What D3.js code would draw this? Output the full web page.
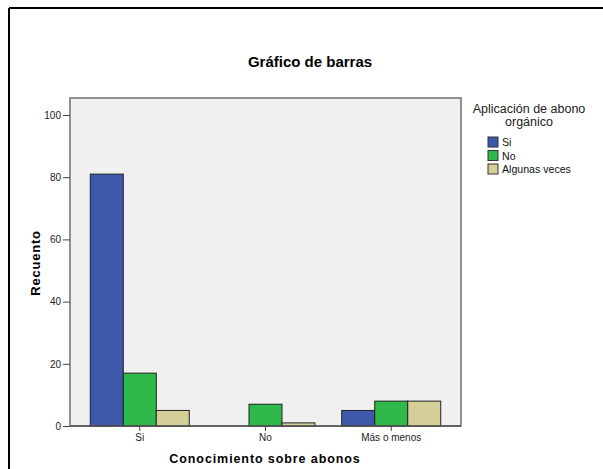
<!DOCTYPE html>
<html>
<head>
<meta charset="utf-8">
<script src="https://cdn.jsdelivr.net/npm/d3@7"></script>
<style>
  body { margin: 0; background: #fff; }
  svg { display: block; font-family: "Liberation Sans", Arial, sans-serif; }
</style>
</head>
<body>
<svg id="chart" width="603" height="469"></svg>
<script>
const categories = ["Si", "No", "Más o menos"];
const series = ["Si", "No", "Algunas veces"];
const valuesSi = [81, 0, 5];
const valuesNo = [17, 7, 8];
const valuesAlgunas = [5, 1, 8];
const yTicks = [0, 20, 40, 60, 80, 100];
const colors = ["#3E58AC", "#2FB94A", "#D4CF99"];

const svg = d3.select("#chart");

// outer frame (only top and left visible)
svg.append("line").attr("x1", 9).attr("x2", 603).attr("y1", 8).attr("y2", 8)
  .attr("stroke", "#000").attr("stroke-width", 2);
svg.append("line").attr("x1", 9).attr("x2", 9).attr("y1", 8).attr("y2", 469)
  .attr("stroke", "#000").attr("stroke-width", 2);

const plot = { left: 70, right: 461, top: 98, bottom: 426 };

const x0 = d3.scaleBand().domain(categories)
  .range([plot.left, plot.right]).paddingOuter(0.055).paddingInner(0);
const groupW = 99;
const x1 = d3.scaleBand().domain(series).range([0, groupW]);
const y = d3.scaleLinear().domain([0, 100]).range([plot.bottom, 115]);

svg.append("rect")
  .attr("x", plot.left).attr("y", plot.top)
  .attr("width", plot.right - plot.left).attr("height", plot.bottom - plot.top)
  .attr("fill", "#F0F0F0").attr("stroke", "#6f6f6f").attr("stroke-width", 1.5);

const rows = categories.map((c, i) => ({
  cat: c,
  vals: [valuesSi[i], valuesNo[i], valuesAlgunas[i]]
}));

const groups = svg.append("g").selectAll("g")
  .data(rows).join("g")
  .attr("transform", d => `translate(${x0(d.cat) + x0.bandwidth() / 2 - groupW / 2},0)`);

groups.selectAll("rect")
  .data(d => d.vals.map((v, j) => ({ s: series[j], v, j })).filter(e => e.v > 0))
  .join("rect")
  .attr("x", d => x1(d.s))
  .attr("y", d => y(d.v))
  .attr("width", x1.bandwidth())
  .attr("height", d => y(0) - y(d.v))
  .attr("fill", d => colors[d.j])
  .attr("stroke", "#222")
  .attr("stroke-width", 1);

// baseline
svg.append("line").attr("x1", plot.left).attr("x2", plot.right)
  .attr("y1", plot.bottom).attr("y2", plot.bottom)
  .attr("stroke", "#555").attr("stroke-width", 1.5);

// y axis
const yAxis = svg.append("g").attr("transform", `translate(${plot.left},0)`)
  .call(d3.axisLeft(y).tickValues(yTicks).tickSize(7).tickPadding(2));
yAxis.select(".domain").remove();
yAxis.selectAll("line").attr("stroke", "#444");
yAxis.selectAll("text").attr("font-size", 10).attr("fill", "#222")
  .attr("font-family", "Liberation Sans, Arial, sans-serif");

// x axis
const xAxis = svg.append("g").attr("transform", `translate(0,${plot.bottom})`)
  .call(d3.axisBottom(x0).tickSize(5).tickPadding(3));
xAxis.select(".domain").remove();
xAxis.selectAll("line").attr("stroke", "#444");
xAxis.selectAll("text").attr("font-size", 10).attr("fill", "#222")
  .attr("font-family", "Liberation Sans, Arial, sans-serif");

// titles
svg.append("text").attr("x", 310).attr("y", 67).attr("text-anchor", "middle")
  .attr("font-size", 15).attr("font-weight", "bold").text("Gráfico de barras");

svg.append("text").attr("transform", "translate(40,263) rotate(-90)")
  .attr("text-anchor", "middle").attr("font-size", 13).attr("font-weight", "bold")
  .attr("letter-spacing", 0.8).text("Recuento");

svg.append("text").attr("x", 265).attr("y", 463).attr("text-anchor", "middle")
  .attr("font-size", 12.5).attr("font-weight", "bold").attr("letter-spacing", 0.9)
  .text("Conocimiento sobre abonos");

// legend
const legend = svg.append("g");
legend.append("text").attr("x", 529).attr("y", 113).attr("text-anchor", "middle")
  .attr("font-size", 12.5).attr("fill", "#222").text("Aplicación de abono");
legend.append("text").attr("x", 529).attr("y", 126).attr("text-anchor", "middle")
  .attr("font-size", 12.5).attr("fill", "#222").text("orgánico");

const item = legend.selectAll("g.item").data(series).join("g")
  .attr("class", "item")
  .attr("transform", (d, i) => `translate(488,${137 + i * 13.5})`);
item.append("rect").attr("width", 10).attr("height", 10)
  .attr("fill", (d, i) => colors[i]).attr("stroke", "#333");
item.append("text").attr("x", 14).attr("y", 9).attr("font-size", 10.6)
  .attr("fill", "#111").text(d => d);
</script>
</body>
</html>
